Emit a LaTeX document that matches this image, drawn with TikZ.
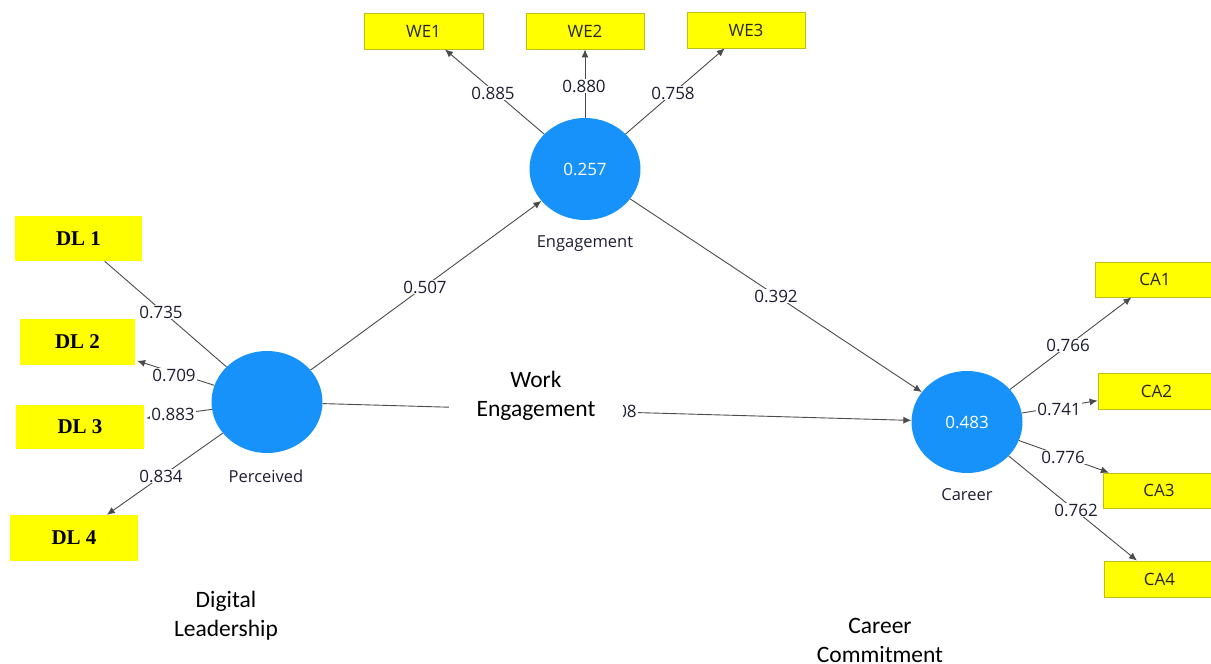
\documentclass[tikz,border=0pt]{standalone}
\usepackage{fontspec}
\setmainfont{Open Sans}
\newfontfamily\capfont{Carlito}
\newfontfamily\dlfont{Liberation Serif}
\usetikzlibrary{shapes.geometric,arrows.meta}
\definecolor{lvblue}{RGB}{22,146,250}
\definecolor{indyel}{RGB}{255,255,0}
\definecolor{indedge}{RGB}{190,190,20}
\definecolor{pathgray}{RGB}{75,75,75}
\definecolor{numtxt}{RGB}{30,30,50}
\begin{document}
\begin{tikzpicture}[x=1pt,y=-1pt,
  latent/.style={ellipse, fill=lvblue, minimum width=111pt, minimum height=102pt,
    inner sep=0pt, text=white, font=\fontsize{17}{20}\selectfont},
  ind/.style={rectangle, fill=indyel, draw=indedge, line width=0.8pt, inner sep=0pt,
    font=\fontsize{17}{20}\selectfont, text=black!85},
  dlbox/.style={rectangle, fill=indyel, inner sep=0pt,
    font=\dlfont\bfseries\fontsize{21}{24}\selectfont},
  link/.style={draw=pathgray, line width=0.9pt},
  arr/.style={link, -{Latex[length=8pt,width=7pt]}},
  coef/.style={fill=white, inner sep=1pt, font=\fontsize{17}{20}\selectfont, text=numtxt},
  lvname/.style={font=\fontsize{16.5}{20}\selectfont, text=numtxt},
  caption/.style={font=\capfont\fontsize{23.5}{29}\selectfont, align=center},
]
\useasboundingbox (0,0) rectangle (1211,664);

% latent variables
\node[latent] (P) at (267,402) {};
\node[latent] (E) at (585,169) {0.257};
\node[latent] (C) at (967,422) {0.483};
\node[lvname] (Pn) at (266,476) {Perceived};
\node[lvname] (En) at (585,244) {Engagement};
\node[lvname] (Cn) at (967,495) {Career};

% indicators of Digital Leadership
\node[dlbox, minimum width=127pt, minimum height=45pt] (DL1) at (78.5,238.5) {DL 1};
\node[dlbox, minimum width=115pt, minimum height=46pt] (DL2) at (77.5,342) {DL 2};
\node[dlbox, minimum width=128pt, minimum height=44pt] (DL3) at (80,427) {DL 3};
\node[dlbox, minimum width=128pt, minimum height=46pt] (DL4) at (74,538) {DL 4};

% indicators of Work Engagement
\node[ind, minimum width=119pt, minimum height=36pt] (WE1) at (423.5,31) {WE1};
\node[ind, minimum width=118pt, minimum height=36pt] (WE2) at (585,31) {WE2};
\node[ind, minimum width=118pt, minimum height=36pt] (WE3) at (746,30) {WE3};

% indicators of Career Commitment
\node[ind, minimum width=120pt, minimum height=35pt] (CA1) at (1155,279.5) {CA1};
\node[ind, minimum width=117pt, minimum height=36pt] (CA2) at (1156.5,391) {CA2};
\node[ind, minimum width=112pt, minimum height=35pt] (CA3) at (1159,490.5) {CA3};
\node[ind, minimum width=111pt, minimum height=36pt] (CA4) at (1159.5,579) {CA4};

% loadings
\draw[link] (P) -- (DL1);
\draw[arr, shorten >=2pt] (P) -- (DL2);
\draw[arr, shorten >=2pt] (P) -- (DL3);
\draw[arr] (P) -- (DL4);
\draw[arr] (E) -- (WE1);
\draw[arr] (E) -- (WE2);
\draw[arr] (E) -- (WE3);
\draw[arr] (C) -- (CA1);
\draw[arr] (C) -- (CA2);
\draw[arr] (C) -- (CA3);
\draw[arr] (C) -- (CA4);

% structural paths
\draw[arr] (P) -- (E);
\draw[arr] (E) -- (C);
\draw[arr] (P) -- (C);

% coefficients
\node[coef] (l1) at (161,312) {0.735};
\node[coef] (l2) at (174,375) {0.709};
\node[coef] (l3) at (173,414) {0.883};
\node[coef] (l4) at (161,476) {0.834};
\node[coef] (w1) at (493,93) {0.885};
\node[coef] (w2) at (584,86) {0.880};
\node[coef] (w3) at (673,93) {0.758};
\node[coef] (c1) at (1068,345) {0.766};
\node[coef] (c2) at (1059,409) {0.741};
\node[coef] (c3) at (1063,457) {0.776};
\node[coef] (c4) at (1076,510) {0.762};
\node[coef] (pe) at (425,287) {0.507};
\node[coef] (ec) at (776,296) {0.392};
\node[coef] (pc) at (615,411) {0.308};

% construct captions
\node[caption, fill=white, minimum width=174pt, minimum height=62pt] (WEcap) at (536,396)
  {Work\\Engagement};
\node[caption] (DLcap) at (226,616) {Digital\\Leadership};
\node[caption] (CCcap) at (880,640) {Career\\Commitment};
\end{tikzpicture}
\end{document}
